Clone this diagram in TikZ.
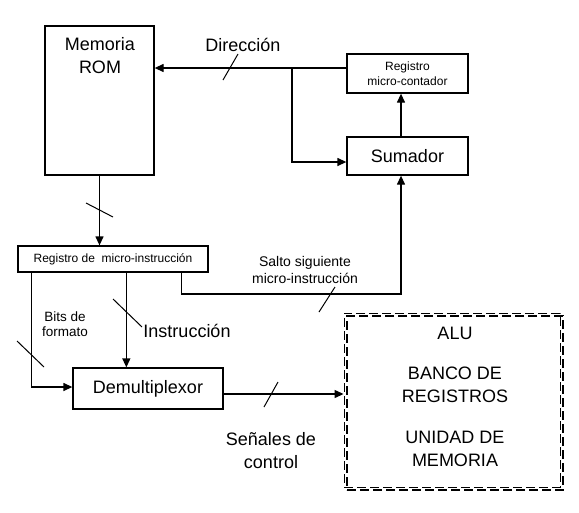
\documentclass[tikz,border=0pt]{standalone}
\usepackage{fontspec}
\setmainfont{Liberation Sans}
\usetikzlibrary{arrows.meta,calc}
\begin{document}
\begin{tikzpicture}[x=1pt,y=-1pt,
  box/.style={draw, line width=1.3pt, inner sep=0pt},
  wire/.style={line width=1.3pt},
  arr/.style={wire, -{Triangle[length=9pt,width=8pt]}},
  tick/.style={line width=1pt},
  big/.style={font=\fontsize{18}{23}\selectfont, align=center, inner sep=0pt},
  small/.style={font=\fontsize{12}{15}\selectfont, align=center, inner sep=0pt},
  mid/.style={font=\fontsize{14}{17}\selectfont, align=center, inner sep=0pt},
  bits/.style={font=\fontsize{13.5}{15.5}\selectfont, align=center, inner sep=0pt},
  thinbox/.style={draw, line width=0.9pt, dash pattern=on 9pt off 4pt, inner sep=0pt, minimum width=216pt, minimum height=174pt},
  thickbox/.style={draw, line width=2pt, dash pattern=on 9pt off 4pt, inner sep=0pt, minimum width=216pt, minimum height=174pt},
]
\useasboundingbox (0,0) rectangle (579,512);

% boxes
\node[box, minimum width=109pt, minimum height=149pt] (rom) at (99.5,100.5) {};
\node[big] (romt) at (100,56) {Memoria\\ROM};
\node[box, small, minimum width=121pt, minimum height=39pt] (rc) at (407.5,73.5) {Registro\\micro-contador};
\node[box, big, minimum width=121pt, minimum height=38pt] (sum) at (407.5,156) {Sumador};
\node[box, small, minimum width=190pt, minimum height=26pt] (rmi) at (113,259) {Registro de \ micro-instrucción};
\node[box, big, minimum width=150pt, minimum height=41pt] (dmx) at (148,388.5) {Demultiplexor};
\node[thinbox] (aluo) at (452,400) {};
\node[thickbox] (alu) at (455,403) {};

% texts inside ALU
\node[big] (t1) at (455,333) {ALU};
\node[big] (t2) at (455,385) {BANCO DE\\REGISTROS};
\node[big] (t3) at (455,449) {UNIDAD DE\\MEMORIA};

% labels
\node[big] (ldir) at (243,45) {Dirección};
\node[mid] (lsal) at (305,270) {Salto siguiente\\micro-instrucción};
\node[bits] (lbits) at (65,324) {Bits de\\formato};
\node[big] (lins) at (187,331) {Instrucción};
\node[big] (lsen) at (271,451) {Señales de\\control};

% connectors
\coordinate (jn) at (292,68);
\coordinate (sj) at (401,294);
\draw[arr] ([yshift=5.5pt]rc.west) -- ([yshift=5.5pt]rc.west -| rom.east);
\draw[arr] (jn) |- ([yshift=-6pt]sum.west);
\draw[arr] ([xshift=-6.5pt]sum.north) -- ([xshift=-6.5pt]rc.south);
\draw[arr] (rom.south) -- (rom.south |- rmi.north);
\draw[arr] ([xshift=14pt]rmi.south west) |- ([yshift=1.5pt]dmx.west);
\draw[arr] ([xshift=109pt]rmi.south west) -- ([xshift=109pt]rmi.south west |- dmx.north);
\draw[arr] ([xshift=164pt]rmi.south west) |- (sj) -- ([xshift=-6.5pt]sum.south);
\draw[arr] ([yshift=-5.5pt]dmx.east) -- ([yshift=-5.5pt]dmx.east -| aluo.west);

% bus ticks
\draw[tick] (223,80) -- (238,54);
\draw[tick] (86,203) -- (113,217);
\draw[tick] (113,299) -- (142,327);
\draw[tick] (17,341) -- (44,367);
\draw[tick] (319,312) -- (335,287);
\draw[tick] (264,407) -- (278,382);
\end{tikzpicture}
\end{document}
